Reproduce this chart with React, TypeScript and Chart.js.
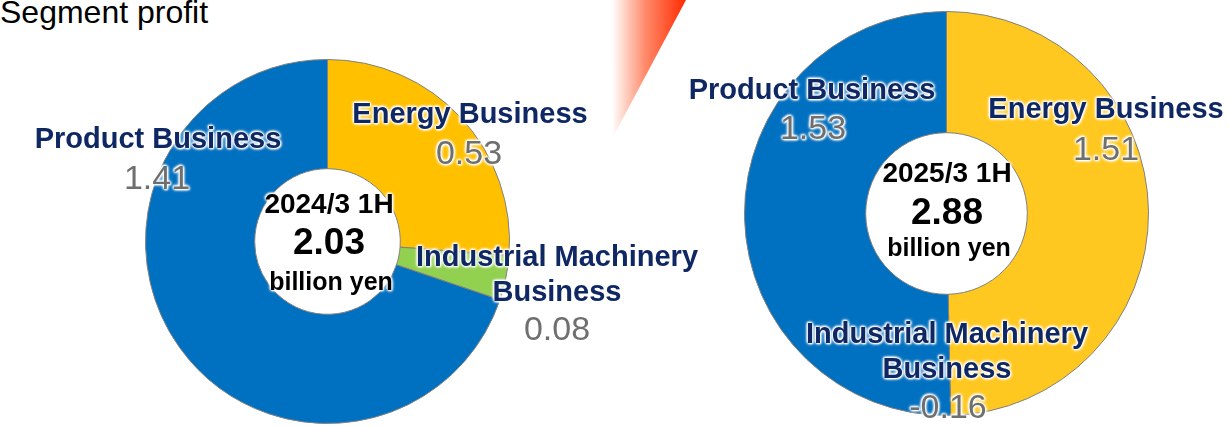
import React, { useEffect, useRef } from "react";
import { Chart, registerables } from "chart.js";

Chart.register(...registerables);

// ---------- data ----------
const title = "Segment profit";
const segments = ["Energy Business", "Industrial Machinery Business", "Product Business"];
const segmentLines = [["Energy Business"], ["Industrial Machinery", "Business"], ["Product Business"]];
const periods = ["2024/3 1H", "2025/3 1H"];
const profit2024 = [0.53, 0.08, 1.41];
const profit2025 = [1.51, -0.16, 1.53];
const totals = [2.03, 2.88];
const unit = "billion yen";

// ---------- styles / layout ----------
const FONT = "'Liberation Sans', Arial, Helvetica, sans-serif";
const NAVY = "#0F2864";
const GRAY = "#6F6F6F";
const colors2024 = ["#FFC000", "#92D050", "#0070C0"];
const colors2025 = ["#FFC820", "#92D050", "#0070C0"];

type Pt = [number, number];
const donuts = [
  {
    values: profit2024,
    colors: colors2024,
    period: periods[0],
    total: totals[0],
    box: { left: 145, top: 59, size: 365 },
    centerX: 329,
    centerY: [204, 242, 281] as number[],
    namePos: [[470, 113], [557, 256], [158, 138]] as Pt[],
    valuePos: [[469, 152], [557, 328], [157, 177]] as Pt[],
  },
  {
    values: profit2025,
    colors: colors2025,
    period: periods[1],
    total: totals[1],
    box: { left: 744, top: 11, size: 405 },
    centerX: 947,
    centerY: [173, 212, 247] as number[],
    namePos: [[1106, 108], [947, 333], [812, 89]] as Pt[],
    valuePos: [[1106, 148], [948, 406], [813, 127]] as Pt[],
  },
];

const glow =
  "0 0 2px #fff, 0 0 3px #fff, 0 0 3px #fff, 0 0 4px #fff, 1px 1px 2px #fff, -1px -1px 2px #fff";

function Label(props: {
  x: number;
  y: number;
  lines: string[];
  size: number;
  weight: number;
  color: string;
  lh?: number;
}) {
  const lh = props.lh ?? Math.round(props.size * 1.2);
  return (
    <div
      style={{
        position: "absolute",
        left: props.x,
        top: props.y - lh / 2,
        transform: "translateX(-50%)",
        whiteSpace: "nowrap",
        textAlign: "center",
        fontFamily: FONT,
        fontSize: props.size,
        fontWeight: props.weight,
        color: props.color,
        lineHeight: lh + "px",
        textShadow: glow,
        pointerEvents: "none",
      }}
    >
      {props.lines.map((l, i) => (
        <div key={i}>{l}</div>
      ))}
    </div>
  );
}

function Donut(props: { d: (typeof donuts)[number] }) {
  const ref = useRef<HTMLCanvasElement | null>(null);
  const d = props.d;
  useEffect(() => {
    if (!ref.current) return;
    const chart = new Chart(ref.current, {
      type: "doughnut",
      data: {
        labels: segments,
        datasets: [
          {
            data: d.values.map((v) => Math.max(v, 0)),
            backgroundColor: d.colors,
            borderColor: "#808080",
            borderWidth: 1,
          },
        ],
      },
      options: {
        responsive: false,
        animation: false,
        cutout: "40%",
        layout: { padding: 0 },
        plugins: { legend: { display: false }, tooltip: { enabled: false } },
      },
    });
    return () => chart.destroy();
  }, []);
  return (
    <canvas
      ref={ref}
      width={d.box.size}
      height={d.box.size}
      style={{
        position: "absolute",
        left: d.box.left,
        top: d.box.top,
        width: d.box.size,
        height: d.box.size,
        display: "block",
      }}
    />
  );
}

export default function App() {
  return (
    <div
      style={{
        position: "absolute",
        left: 0,
        top: 0,
        width: 1230,
        height: 427,
        overflow: "hidden",
        background: "#fff",
      }}
    >
      <div
        style={{
          position: "absolute",
          left: 612,
          top: 0,
          width: 74,
          height: 137,
          background: "linear-gradient(to right, rgba(255,255,255,1) 0%, #FF8A6A 45%, #FF2A00 100%)",
          clipPath: "polygon(0 0, 100% 0, 1px 100%)",
        }}
      />
      <div
        style={{
          position: "absolute",
          left: 0,
          top: -4,
          fontFamily: FONT,
          fontSize: 32,
          lineHeight: "32px",
          color: "#000",
          whiteSpace: "nowrap",
        }}
      >
        {title}
      </div>
      {donuts.map((d, k) => (
        <React.Fragment key={k}>
          <Donut d={d} />
          {segments.map((s, i) => (
            <React.Fragment key={s}>
              <Label
                x={d.namePos[i][0]}
                y={d.namePos[i][1]}
                lines={segmentLines[i]}
                size={29}
                weight={700}
                color={NAVY}
                lh={35}
              />
              <Label
                x={d.valuePos[i][0]}
                y={d.valuePos[i][1]}
                lines={[d.values[i].toFixed(2)]}
                size={34}
                weight={400}
                color={GRAY}
              />
            </React.Fragment>
          ))}
          <Label x={d.centerX} y={d.centerY[0]} lines={[d.period]} size={28} weight={700} color="#000" />
          <Label x={d.centerX} y={d.centerY[1]} lines={[d.total.toFixed(2)]} size={37} weight={700} color="#000" />
          <Label x={d.centerX + 2} y={d.centerY[2]} lines={[unit]} size={25} weight={700} color="#000" />
        </React.Fragment>
      ))}
    </div>
  );
}
